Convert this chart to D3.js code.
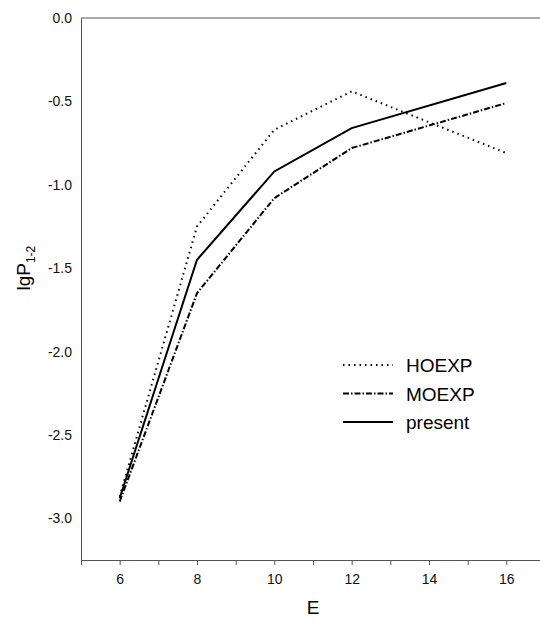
<!DOCTYPE html>
<html lang="en">
<head>
<meta charset="UTF-8">
<title>lgP vs E</title>
<script src="https://d3js.org/d3.v7.min.js"></script>
<style>
  body { margin: 0; background: #fff; }
  svg { font-family: "Liberation Sans", Arial, sans-serif; }
</style>
</head>
<body>
<div id="chart"></div>
<script>
// data
const energies = [6, 8, 10, 12, 16];
const hoexp   = [-2.87, -1.25, -0.67, -0.44, -0.81];
const moexp   = [-2.90, -1.65, -1.08, -0.78, -0.51];
const present = [-2.88, -1.45, -0.92, -0.66, -0.39];
const xTicks = [6, 8, 10, 12, 14, 16];
const yTicks = [0, -0.5, -1, -1.5, -2, -2.5, -3];

const width = 540, height = 622;
const margin = {top: 18, left: 81, bottom: 62};

const svg = d3.select("#chart").append("svg")
    .attr("width", width)
    .attr("height", height);

const x = d3.scaleLinear().domain([5, 17]).range([margin.left, 545]);
const y = d3.scaleLinear().domain([-3.25, 0]).range([height - margin.bottom, margin.top]);

// frame: top line, bottom axis with minor ticks
svg.append("line")
    .attr("x1", margin.left).attr("x2", width)
    .attr("y1", y(0)).attr("y2", y(0))
    .attr("stroke", "#555").attr("stroke-width", 1);

const xAxis = svg.append("g")
    .attr("transform", `translate(0,${y(-3.25)})`)
    .call(d3.axisBottom(x).tickValues(d3.range(5, 18, 1)).tickSize(5).tickFormat(""));
xAxis.select(".domain").attr("stroke", "#555");
xAxis.selectAll(".tick line").attr("stroke", "#555");

svg.append("g")
    .attr("transform", `translate(0,${y(-3.25)})`)
    .call(d3.axisBottom(x).tickValues(xTicks).tickSize(0).tickPadding(14))
    .call(g => g.select(".domain").remove())
    .selectAll("text")
    .attr("font-size", 14)
    .attr("fill", "#111");

const yAxis = svg.append("g")
    .attr("transform", `translate(${margin.left},0)`)
    .call(d3.axisLeft(y).tickValues(yTicks).tickSize(0).tickPadding(9));
yAxis.select(".domain").attr("stroke", "#555");
yAxis.selectAll("text")
    .attr("font-size", 14)
    .attr("fill", "#111")
    .text(d => d3.format(".1f")(d).replace("−", "-"));

// axis titles
svg.append("text")
    .attr("x", x(11)).attr("y", 614)
    .attr("text-anchor", "middle")
    .attr("font-size", 19)
    .text("E");

const yl = svg.append("text")
    .attr("transform", `translate(30,${y(-1.5)}) rotate(-90)`)
    .attr("text-anchor", "middle")
    .attr("font-size", 19);
yl.append("tspan").text("lgP");
yl.append("tspan").attr("font-size", 12).attr("dy", 5).text("1-2");

// series
const series = [
  {name: "HOEXP", values: hoexp, dash: "1.5,4", width: 2},
  {name: "MOEXP", values: moexp, dash: "6,2,1.5,2", width: 2},
  {name: "present", values: present, dash: null, width: 2}
];

const line = d3.line()
    .x((d, i) => x(energies[i]))
    .y(d => y(d));

series.forEach(s => {
  svg.append("path")
      .datum(s.values)
      .attr("d", line)
      .attr("fill", "none")
      .attr("stroke", "#000")
      .attr("stroke-width", s.width)
      .attr("stroke-dasharray", s.dash);
});

// legend
const legend = svg.append("g").attr("transform", "translate(343,365)");
series.forEach((s, i) => {
  const g = legend.append("g").attr("transform", `translate(0,${i * 28.5})`);
  g.append("line")
      .attr("x1", 0).attr("x2", 50)
      .attr("stroke", "#000")
      .attr("stroke-width", s.width)
      .attr("stroke-dasharray", s.dash);
  g.append("text")
      .attr("x", 63).attr("y", 7)
      .attr("font-size", 19)
      .text(s.name);
});
</script>
</body>
</html>
